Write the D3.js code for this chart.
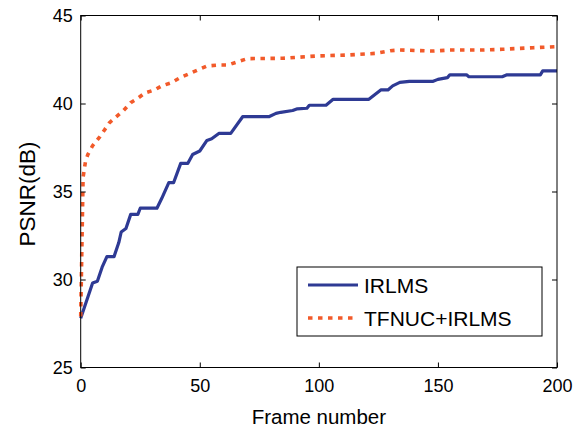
<!DOCTYPE html>
<html>
<head>
<meta charset="utf-8">
<script src="https://cdn.jsdelivr.net/npm/d3@7"></script>
<style>
  body { margin: 0; background: #fff; }
  text { font-family: "Liberation Sans", Arial, sans-serif; fill: #000; }
</style>
</head>
<body>
<svg id="chart" width="578" height="429"></svg>
<script>
// values
var irlmsFrames = [0, 5, 7, 9, 11, 14, 16, 17, 19, 21, 24, 25, 32, 34, 37, 39, 42, 45, 47, 50, 53, 55, 58, 63, 68, 79, 82, 84, 89, 91, 95, 96, 103, 106, 121, 126, 129, 131, 134, 138, 148, 150, 154, 155, 162, 163, 177, 179, 193, 194, 200];
var irlmsPsnr = [27.8, 29.8, 29.9, 30.7, 31.3, 31.3, 32.1, 32.7, 32.9, 33.7, 33.7, 34.05, 34.05, 34.6, 35.5, 35.5, 36.6, 36.6, 37.1, 37.3, 37.9, 38.0, 38.3, 38.3, 39.25, 39.25, 39.44, 39.5, 39.6, 39.7, 39.73, 39.9, 39.9, 40.24, 40.24, 40.77, 40.77, 41.0, 41.2, 41.26, 41.26, 41.37, 41.47, 41.63, 41.63, 41.52, 41.52, 41.63, 41.63, 41.85, 41.85];

var tfnucFrames = [0, 1, 2, 3, 5, 8, 10, 12, 15, 18, 21, 24, 27, 31, 34, 38, 42, 46, 49, 53, 58, 62, 66, 70, 85, 99, 113, 124, 130, 134, 148, 155, 169, 177, 190, 200];
var tfnucPsnr = [27.9, 35.8, 36.7, 37.1, 37.6, 38.1, 38.5, 38.9, 39.25, 39.6, 40.05, 40.3, 40.6, 40.77, 41.0, 41.18, 41.49, 41.72, 41.9, 42.13, 42.19, 42.19, 42.38, 42.55, 42.57, 42.7, 42.76, 42.85, 43.0, 43.04, 42.98, 43.04, 43.04, 43.08, 43.17, 43.23];

var xTicks = [0, 50, 100, 150, 200];
var yTicks = [25, 30, 35, 40, 45];
var seriesNames = ['IRLMS', 'TFNUC+IRLMS'];

var pL = 80.7, pR = 557, pT = 15.5, pB = 367.5;
var blue = '#2e3a94', orange = '#f25a2a';

var svg = d3.select('#chart');

var x = d3.scaleLinear().domain([0, 200]).range([pL, pR]);
var y = d3.scaleLinear().domain([25, 45]).range([pB, pT]);

var line = d3.line()
  .x(function(d) { return x(d[0]); })
  .y(function(d) { return y(d[1]); })
;

var irlms = d3.zip(irlmsFrames, irlmsPsnr);
var tfnuc = d3.zip(tfnucFrames, tfnucPsnr);

var plot = svg.append('g');

plot.append('path')
  .datum(irlms)
  .attr('d', line)
  .attr('fill', 'none')
  .attr('stroke', blue)
  .attr('stroke-width', 3.2)
  .attr('stroke-linejoin', 'round')
;

plot.append('path')
  .datum(tfnuc)
  .attr('d', line)
  .attr('fill', 'none')
  .attr('stroke', orange)
  .attr('stroke-width', 3.6)
  .attr('stroke-dasharray', '4.5,5.5')
;

// axes, ticks pointing inward, box all round
var tick = 5;
svg.append('g')
  .attr('transform', 'translate(0,' + pB + ')')
  .call(d3.axisBottom(x).tickValues(xTicks).tickSizeInner(-tick).tickSizeOuter(0).tickPadding(12))
  .call(function(g) { g.select('.domain').remove(); })
  .selectAll('text')
    .style('font-size', '18px')
;
svg.append('g')
  .attr('transform', 'translate(' + pL + ',0)')
  .call(d3.axisLeft(y).tickValues(yTicks).tickSizeInner(-tick).tickSizeOuter(0).tickPadding(8))
  .call(function(g) { g.select('.domain').remove(); })
  .selectAll('text')
    .style('font-size', '18px')
;
svg.append('g')
  .attr('transform', 'translate(0,' + pT + ')')
  .call(d3.axisTop(x).tickValues(xTicks).tickSizeInner(-tick).tickSizeOuter(0).tickFormat(''))
  .call(function(g) { g.select('.domain').remove(); })
;
svg.append('g')
  .attr('transform', 'translate(' + pR + ',0)')
  .call(d3.axisRight(y).tickValues(yTicks).tickSizeInner(-tick).tickSizeOuter(0).tickFormat(''))
  .call(function(g) { g.select('.domain').remove(); })
;
svg.selectAll('.tick line').attr('stroke', '#000');

svg.append('rect')
  .attr('x', pL)
  .attr('y', pT)
  .attr('width', pR - pL)
  .attr('height', pB - pT)
  .attr('fill', 'none')
  .attr('stroke', '#000')
  .attr('stroke-width', 1)
;

svg.append('text')
  .attr('x', (pL + pR) / 2)
  .attr('y', 424)
  .attr('text-anchor', 'middle')
  .style('font-size', '20.5px')
  .text('Frame number')
;
svg.append('text')
  .attr('transform', 'translate(35,194) rotate(-90)')
  .attr('text-anchor', 'middle')
  .style('font-size', '22.5px')
  .text('PSNR(dB)')
;

// legend
var lg = svg.append('g').attr('transform', 'translate(297,267)');
lg.append('rect')
  .attr('width', 245)
  .attr('height', 69)
  .attr('fill', '#fff')
  .attr('stroke', '#000')
  .attr('stroke-width', 1)
;
var styles = [
  {color: blue, width: 3.2, dash: null},
  {color: orange, width: 3.6, dash: '4.5,5.5'}
];
seriesNames.forEach(function(name, i) {
  var cy = 18 + i * 33;
  lg.append('line')
    .attr('x1', 11).attr('x2', 61)
    .attr('y1', cy).attr('y2', cy)
    .attr('stroke', styles[i].color)
    .attr('stroke-width', styles[i].width)
    .attr('stroke-dasharray', styles[i].dash)
  ;
  lg.append('text')
    .attr('x', 67)
    .attr('y', cy)
    .attr('dy', '0.36em')
    .style('font-size', '21px')
    .text(name)
  ;
});
</script>
</body>
</html>
